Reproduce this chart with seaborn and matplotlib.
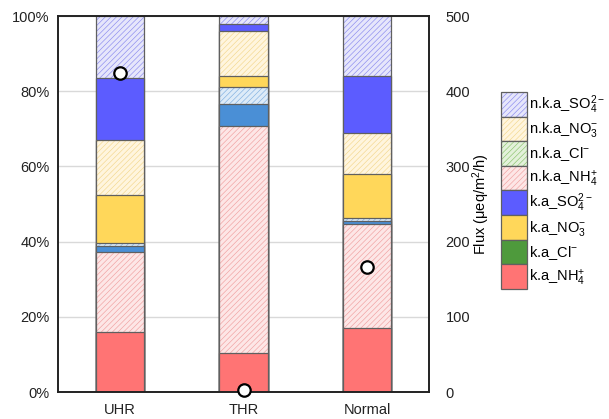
import numpy as np
import matplotlib
matplotlib.use("Agg")
import matplotlib.pyplot as plt
import seaborn as sns
from matplotlib.patches import Patch
from matplotlib.legend_handler import HandlerTuple

sites = ["UHR", "THR", "Normal"]

# segment shares (%) bottom -> top
ka_NH4 = [16.0, 10.4, 17.0]
nka_NH4 = [21.2, 60.3, 27.8]
ka_Cl = [1.6, 5.9, 0.6]
nka_Cl = [0.7, 4.5, 0.8]
ka_NO3 = [12.9, 2.9, 11.8]
nka_NO3 = [14.6, 12.0, 10.8]
ka_SO4 = [16.5, 2.0, 15.3]
nka_SO4 = [16.5, 2.0, 15.9]

flux = [424, 2, 166]

layer_labels = ["k.a_NH$_4^{+}$", "n.k.a_NH$_4^{+}$", "k.a_Cl$^{-}$", "n.k.a_Cl$^{-}$",
                "k.a_NO$_3^{-}$", "n.k.a_NO$_3^{-}$", "k.a_SO$_4^{2-}$", "n.k.a_SO$_4^{2-}$"]

plt.rcParams['font.family'] = ['Liberation Sans', 'DejaVu Sans']
plt.rcParams['mathtext.fontset'] = 'custom'
plt.rcParams['mathtext.rm'] = 'Liberation Sans'
plt.rcParams['mathtext.it'] = 'Liberation Sans'
plt.rcParams['mathtext.default'] = 'regular'
plt.rcParams['hatch.linewidth'] = 0.45

layers = [ka_NH4, nka_NH4, ka_Cl, nka_Cl, ka_NO3, nka_NO3, ka_SO4, nka_SO4]
# (face, hatch colour or None) for bars
bar_styles = [("#FF7474", None), ("#FDE6E6", "#F0A0A0"), ("#4A8FD6", None), ("#DDEBF8", "#80B0E0"),
              ("#FFD75A", None), ("#FFF5DE", "#F3D78E"), ("#5C5CFF", None), ("#E6E6FB", "#8A8AEE")]
# legend styles (legend shows green for Cl)
leg_styles = [("#FF7474", None), ("#FDE6E6", "#F0A0A0"), ("#4E9A3C", None), ("#E3F1DA", "#8CC46E"),
              ("#FFD75A", None), ("#FFF5DE", "#F3D78E"), ("#5C5CFF", None), ("#E6E6FB", "#8A8AEE")]
edge = "#606060"

fig = plt.figure(figsize=(6.09, 4.19), dpi=100)
ax = fig.add_axes([58/609, 1-392/419, (429-58)/609, (392-16)/419])

cum = np.cumsum(np.array(layers), axis=0)
width = 0.39
for i in range(len(layers)-1, -1, -1):
    face, hcol = bar_styles[i]
    if hcol is not None:
        sns.barplot(x=sites, y=cum[i], color=face, saturation=1, errorbar=None, width=width,
                    hatch="//////", edgecolor=hcol, linewidth=0, ax=ax)
    else:
        sns.barplot(x=sites, y=cum[i], color=face, saturation=1, errorbar=None, width=width,
                    linewidth=0, ax=ax)
    sns.barplot(x=sites, y=cum[i], fill=False, errorbar=None, width=width,
                edgecolor=edge, linewidth=0.9, ax=ax)

ax.set_xlim(-0.5, 2.5)
ax.set_ylim(0, 100)
ax.set_yticks([0, 20, 40, 60, 80, 100])
ax.set_yticklabels([f"{v}%" for v in [0, 20, 40, 60, 80, 100]])
ax.yaxis.grid(True, color="#D9D9D9", linewidth=1)
ax.set_axisbelow(True)
ax.tick_params(length=0, labelsize=10.5, colors="#222222", pad=6)
ax.tick_params(axis="x", pad=8)
ax.set_xlabel("")
ax.set_ylabel("")
for s in ax.spines.values():
    s.set_color("#222222")
    s.set_linewidth(1.2)

ax2 = ax.twinx()
sns.scatterplot(x=[0, 1, 2], y=flux, ax=ax2, s=80, color="white", edgecolor="black",
                linewidth=1.6, zorder=5, clip_on=False)
ax2.set_ylim(0, 500)
ax2.set_yticks([0, 100, 200, 300, 400, 500])
ax2.tick_params(length=0, labelsize=10.5, colors="#222222", pad=12)
ax2.set_ylabel("Flux (μeq/m$^2$/h)", fontsize=10.5, labelpad=0)
for s in ax2.spines.values():
    s.set_color("#222222")
    s.set_linewidth(1.2)
ax2.grid(False)

order = [7, 5, 3, 1, 6, 4, 2, 0]
handles = []
for i in order:
    face, hcol = leg_styles[i]
    if hcol is not None:
        p1 = Patch(facecolor=face, hatch="//////", edgecolor=hcol, linewidth=0)
    else:
        p1 = Patch(facecolor=face, linewidth=0)
    p2 = Patch(fill=False, edgecolor=edge, linewidth=0.9)
    handles.append((p1, p2))
labels = [layer_labels[i] for i in order]
fig.legend(handles, labels, handler_map={tuple: HandlerTuple(ndivide=1)},
           loc="upper left", bbox_to_anchor=(501/609, 1-92/419), frameon=False,
           fontsize=10.5, handlelength=1.75, handleheight=2.22, labelspacing=0,
           handletextpad=0.2, borderpad=0, borderaxespad=0)

fig.savefig("out.png", dpi=100)
